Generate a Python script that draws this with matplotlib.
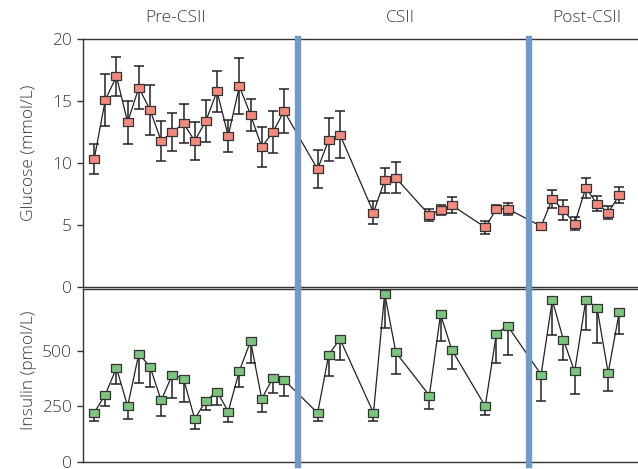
import matplotlib
matplotlib.use("Agg")
import matplotlib.pyplot as plt
import matplotlib.transforms as mtransforms
from matplotlib.path import Path

# sampling index of every measurement (gaps = nights without samples)
pre_x = list(range(18))
csii_x = [20, 21, 22, 25, 26, 27, 30, 31, 32, 35, 36, 37]
post_x = list(range(40, 48))
times = pre_x + csii_x + post_x

glucose = [10.3, 15.1, 17.0, 13.3, 16.1, 14.3, 11.8, 12.5, 13.2, 11.8, 13.4, 15.8,
           12.2, 16.2, 13.9, 11.3, 12.5, 14.2,
           9.5, 11.9, 12.3, 6.0, 8.6, 8.8, 5.8, 6.2, 6.6, 4.8, 6.3, 6.3,
           4.9, 7.1, 6.2, 5.1, 8.0, 6.7, 6.0, 7.4]
glucose_sd = [1.2, 2.1, 1.55, 1.75, 1.75, 2.0, 1.6, 1.55, 1.6, 1.55, 1.7, 1.65,
              1.3, 2.25, 1.3, 1.6, 1.7, 1.8,
              1.55, 1.75, 1.9, 0.9, 1.0, 1.25, 0.45, 0.4, 0.65, 0.5, 0.35, 0.5,
              0.05, 0.75, 0.8, 0.55, 0.8, 0.6, 0.5, 0.65]

insulin = [220, 302, 422, 250, 485, 428, 276, 392, 374, 193, 274, 316,
           226, 409, 542, 283, 377, 368,
           220, 482, 552, 220, 756, 492, 298, 663, 504, 250, 576, 611,
           392, 726, 548, 406, 726, 693, 400, 674]
insulin_sd = [37, 52, 72, 55, 129, 91, 68, 107, 107, 46, 43, 62,
              48, 71, 96, 58, 69, 71,
              37, 97, 94, 37, 157, 97, 60, 118, 88, 37, 131, 132,
              120, 157, 92, 99, 133, 159, 80, 98]

periods = ["Pre-CSII", "CSII", "Post-CSII"]

# layout
period_label_x = [7.3, 27.4, 44.1]
period_edges = [18.22, 38.93]
text_color = "#3c3c3c"
line_color = "#222222"
edge_color = "#333333"
bar_blue = "#7399c9"

plt.rcParams["font.family"] = ["Open Sans", "DejaVu Sans"]
plt.rcParams["font.weight"] = "light"

# wide flat box marker
box = Path([(-1.3, -1), (1.3, -1), (1.3, 1), (-1.3, 1), (-1.3, -1)],
           [Path.MOVETO, Path.LINETO, Path.LINETO, Path.LINETO, Path.CLOSEPOLY])

fig = plt.figure(figsize=(6.38, 4.69), dpi=100)
ax1 = fig.add_axes([0.130, 0.3885, 0.870, 0.5277])
ax2 = fig.add_axes([0.130, 0.0150, 0.870, 0.3682])


def style_axis(ax, ymax, ticks):
  ax.set_xlim(-1.0, 48.67)
  ax.set_ylim(0, ymax)
  ax.set_xticks([])
  ax.set_yticks(ticks)
  ax.spines["right"].set_visible(False)
  for side in ("left", "top", "bottom"):
    ax.spines[side].set_color(edge_color)
    ax.spines[side].set_linewidth(1.0)
  ax.tick_params(axis="y", direction="out", length=4.3, width=1.0, color=edge_color,
                 labelsize=12.5, labelcolor=text_color, pad=3.5)
  # period separators run through both panels
  for xe in period_edges:
    ax.axvline(xe, ymin=-0.02, ymax=1.0, color=bar_blue, lw=4.6, zorder=5, clip_on=False)


# Glucose: mean +/- SD
ax1.errorbar(times, glucose, yerr=glucose_sd, fmt="none", ecolor=line_color,
             elinewidth=1.1, capsize=3.6, capthick=1.1, zorder=2)
ax1.plot(times, glucose, color=line_color, lw=0.9, zorder=3)
ax1.plot(times, glucose, ls="none", marker=box, ms=6.6, mfc="#f28b7d",
         mec=edge_color, mew=0.9, zorder=4)
style_axis(ax1, 20, [0, 5, 10, 15, 20])

# Insulin: mean - SD only
ax2.errorbar(times, insulin, yerr=[insulin_sd, [0] * len(insulin)], fmt="none",
             ecolor=line_color, elinewidth=1.1, capsize=3.6, capthick=1.1, zorder=2)
ax2.plot(times, insulin, color=line_color, lw=0.9, zorder=3)
ax2.plot(times, insulin, ls="none", marker=box, ms=6.6, mfc="#7cc57f",
         mec=edge_color, mew=0.9, zorder=4)
style_axis(ax2, 775, [0, 250, 500])

# period names above the top panel
trans = mtransforms.blended_transform_factory(ax1.transData, ax1.transAxes)
for name, xl in zip(periods, period_label_x):
  ax1.text(xl, 1.086, name, transform=trans, ha="center", va="center",
           fontsize=12.5, color=text_color)

fig.text(0.045, 0.675, "Glucose (mmol/L)", rotation=90, ha="center", va="center",
         fontsize=12.5, color=text_color)
fig.text(0.045, 0.211, "Insulin (pmol/L)", rotation=90, ha="center", va="center",
         fontsize=12.5, color=text_color)

fig.savefig("out.png", dpi=100)
